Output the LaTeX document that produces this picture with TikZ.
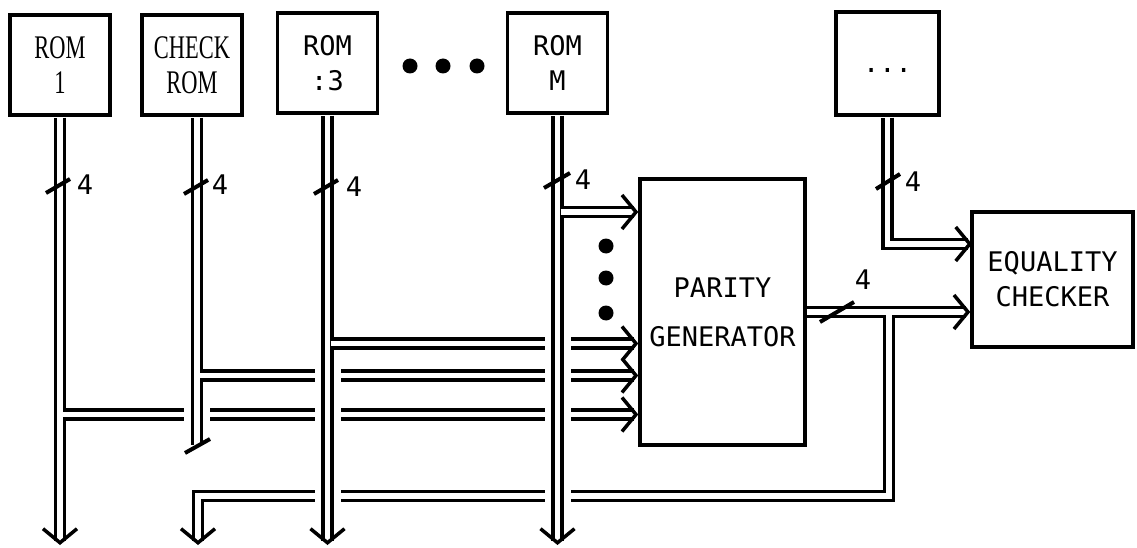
\documentclass[tikz,border=0pt]{standalone}
\usepackage{fontspec}
\usetikzlibrary{arrows.meta}

\newfontfamily\romserif[FakeStretch=0.68]{Liberation Serif}
\newfontfamily\romtype{DejaVu Sans Mono}

\begin{document}
\begin{tikzpicture}[
    x=1pt, y=-1pt,
    box/.style={draw, line width=3.5pt, inner sep=0pt, align=center,
        minimum width=100pt, minimum height=100pt},
    serifbox/.style={box, font=\romserif\fontsize{33}{35}\selectfont},
    typebox/.style={box, font=\romtype\fontsize{27}{35}\selectfont},
    bus/.style={line width=3.5pt, double=white, double distance=5.5pt},
    busarrow/.style={bus, -{Straight Barb[length=14pt,width=34pt]}},
    gap/.style={draw=white, line width=26pt},
    tick/.style={line width=4pt},
    buswidth/.style={font=\romtype\fontsize{27}{30}\selectfont, inner sep=0pt},
    blob/.style={circle, fill, inner sep=0pt, minimum size=15pt}
]
\useasboundingbox (0,0) rectangle (1137,548);

% ROM row along the top
\node[serifbox] (romA) at (60,65) {ROM\\1};
\node[serifbox] (chk) at (192,65) {CHECK\\ROM};
\node[typebox] (romC) at (327.5,63) {ROM\\:3};
\node[typebox] (romM) at (557.5,63) {ROM\\M};
\node[typebox, minimum width=103pt, minimum height=103pt] (more) at (887.5,63.5) {\raisebox{-9pt}[0pt][0pt]{...}};
\node[blob] (d1) at (410,66) {};
\node[blob] (d2) at (443,66) {};
\node[blob] (d3) at (477,66) {};

% parity generator and checker
\node[typebox, minimum width=165pt, minimum height=266pt] (par) at (722.5,312) {PARITY\\[14pt]GENERATOR};
\node[typebox, minimum width=161pt, minimum height=135pt] (eq) at (1052.5,279.5) {EQUALITY\\CHECKER};
\node[blob] (d4) at (606,246) {};
\node[blob] (d5) at (606,278) {};
\node[blob] (d6) at (606,313) {};

% bus end points
\coordinate (aEnd) at (60,545);
\coordinate (kEnd) at (197,445);
\coordinate (cEnd) at (327.5,545);
\coordinate (mEnd) at (557.5,545);
\coordinate (rEnd) at (198,545);
\coordinate (rTop) at (889,315);
\coordinate (rTurn) at (889,496);
\coordinate (eqA) at (972,244);
\coordinate (tapA) at (63,414.5);
\coordinate (tapK) at (200,375.5);
\coordinate (tapC) at (330.5,343.5);
\coordinate (tapM) at (560.5,212);

% buses, drawn in the order that leaves gaps where they cross
\draw[busarrow, shorten <=1pt] (romA) -- (aEnd);
\draw[busarrow] (tapA) -- (par.west |- tapA);
\draw[gap, shorten <=2pt] ([xshift=5pt]chk.south) -- (kEnd);
\draw[bus, shorten <=1pt] ([xshift=5pt]chk.south) -- (kEnd);
\draw[busarrow] (tapK) -- (par.west |- tapK);
\draw[busarrow] (par.east) -- (eq.west |- par.east);
\draw[busarrow] (rTop) -- (rTurn) -| (rEnd);
\draw[gap, shorten <=2pt] (romC) -- (cEnd);
\draw[busarrow, shorten <=1pt] (romC) -- (cEnd);
\draw[busarrow] (tapC) -- (par.west |- tapC);
\draw[gap, shorten <=2pt] (romM) -- (mEnd);
\draw[busarrow, shorten <=1pt] (romM) -- (mEnd);
\draw[busarrow] (tapM) -- (par.west |- tapM);
\draw[busarrow, shorten <=1pt] (more) |- (eqA);

% bus width marks
\draw[tick] (46,193) -- (70,179);
\draw[tick] (184,194) -- (208,180);
\draw[tick] (314,194) -- (338,180);
\draw[tick] (544,188) -- (570,173);
\draw[tick] (876,189) -- (900,174);
\draw[tick] (820,322) -- (854,302);
\draw[tick] (185,453) -- (210,439);
\node[buswidth] (nA) at (85,185) {4};
\node[buswidth] (nK) at (220,185) {4};
\node[buswidth] (nC) at (354,187) {4};
\node[buswidth] (nM) at (583,180) {4};
\node[buswidth] (nR) at (913,182) {4};
\node[buswidth] (nP) at (863,280) {4};

\end{tikzpicture}
\end{document}
